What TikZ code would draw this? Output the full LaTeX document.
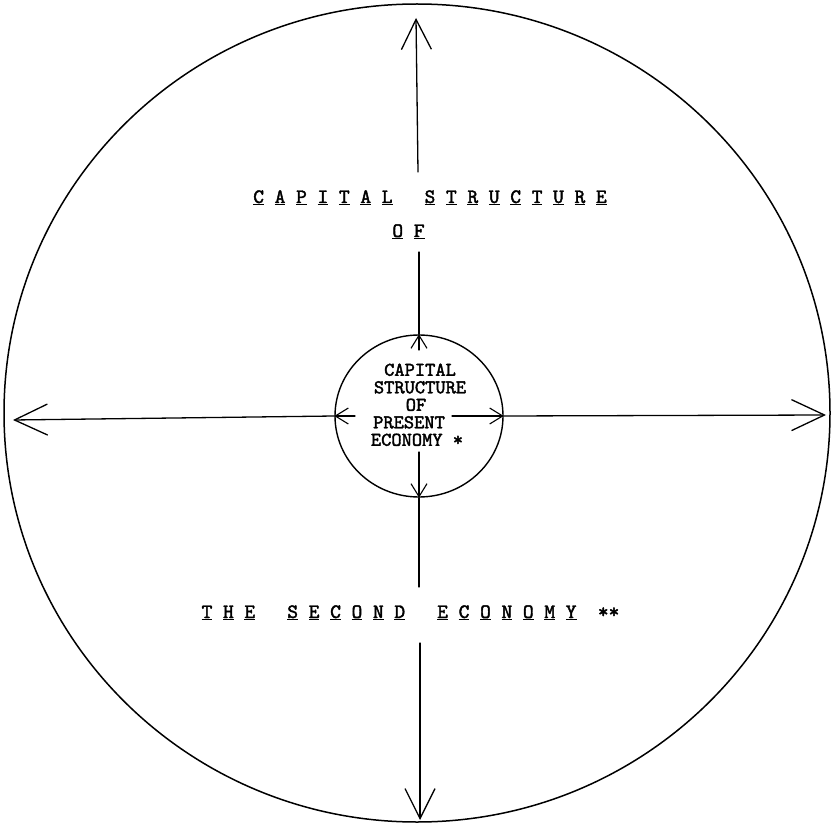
\documentclass[tikz,border=0pt]{standalone}
\usepackage{fontspec}
\newfontfamily\tw{lmmono10-regular.otf}[BoldFont=lmmono10-regular.otf,BoldFeatures={FakeBold=2}]
\usetikzlibrary{arrows.meta,shapes.geometric}
\newcommand\uu[1]{\underline{#1}}
\newcommand\padr[1]{\rule{#1}{0pt}}
\begin{document}
\begin{tikzpicture}[x=1pt,y=-1pt,line width=1.3pt,line cap=round,
  bigarrow/.style={-{Straight Barb[length=30pt,width=30pt,line width=1.3pt]}},
  bigarrowh/.style={-{Straight Barb[length=33pt,width=31pt,line width=1.3pt]}},
  smallarrow/.style={-{Straight Barb[length=13pt,width=16pt,line width=1.1pt]}},
  bigtxt/.style={font=\fontsize{20.4}{24}\selectfont\tw\bfseries,inner sep=0pt,anchor=base},
  smalltxt/.style={font=\fontsize{19.5}{17.5}\selectfont\tw\bfseries,inner sep=0pt,align=center}]
\useasboundingbox (0,0) rectangle (840,826);
% circles
\node[draw,ellipse,line width=1.5pt,minimum width=826pt,minimum height=818pt,inner sep=0pt] (world) at (417,413) {};
\node[draw,ellipse,line width=1.4pt,minimum width=168pt,minimum height=162pt,inner sep=0pt] (core) at (419,416) {};
% texts
\node[bigtxt] (cap) at (430,203) {\uu{C}~\uu{A}~\uu{P}~\uu{I}~\uu{T}~\uu{A}~\uu{L}~~~\uu{S}~\uu{T}~\uu{R}~\uu{U}~\uu{C}~\uu{T}~\uu{U}~\uu{R}~\uu{E}};
\node[bigtxt] (of) at (408.5,237) {\uu{O}~\uu{F}};
\node[bigtxt] (second) at (410.5,618) {\uu{T}~\uu{H}~\uu{E}~~~\uu{S}~\uu{E}~\uu{C}~\uu{O}~\uu{N}~\uu{D}~~~\uu{E}~\uu{C}~\uu{O}~\uu{N}~\uu{O}~\uu{M}~\uu{Y}~~**};
\node[smalltxt,anchor=north] (inner) at (420,363) {CAPITAL\\STRUCTURE\\OF\padr{8pt}\\PRESENT\padr{22pt}\\ECONOMY~*\padr{6pt}};
% coordinates
\coordinate (topIn) at (419,350);
\coordinate (topMid) at (419,252);
\coordinate (topStart) at (418,172);
\coordinate (topTip) at (416,18);
\coordinate (botIn) at (419,452);
\coordinate (botMid) at (419,587);
\coordinate (botStart) at (420,643);
\coordinate (botTip) at (420,820);
\coordinate (leftIn) at (355,416);
\coordinate (leftTip) at (13,420);
\coordinate (rightIn) at (452,416);
\coordinate (rightTip) at (826,415);
% connectors
\draw[smallarrow] (topIn) -- (core.north);
\draw (core.north) -- (topMid);
\draw[bigarrow] (topStart) -- (topTip);
\draw[smallarrow] (botIn) -- (core.south);
\draw (core.south) -- (botMid);
\draw[bigarrow] (botStart) -- (botTip);
\draw[smallarrow] (leftIn) -- (core.west);
\draw[bigarrowh] (core.west) -- (leftTip);
\draw[smallarrow] (rightIn) -- (core.east);
\draw[bigarrowh] (core.east) -- (rightTip);
\end{tikzpicture}
\end{document}
